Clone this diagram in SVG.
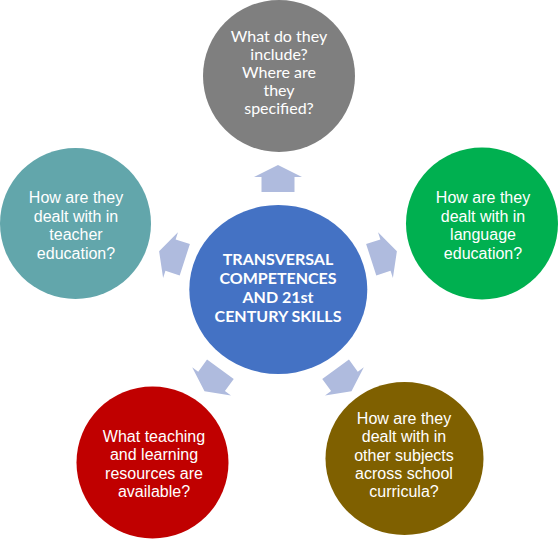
<svg xmlns="http://www.w3.org/2000/svg" width="559" height="540" viewBox="0 0 559 540">
<defs>
<style>
.arrow{fill:#AFBBDE}
.t{font-family:"Liberation Sans",Arial,sans-serif;font-size:16px;fill:#fff;text-anchor:middle}
.c{font-family:Lato,"Open Sans",sans-serif;font-size:16px;fill:#fff;text-anchor:middle}
.cb{font-family:Lato,"Open Sans",sans-serif;font-size:16px;font-weight:bold;fill:#fff;text-anchor:middle}
</style>
<polygon id="arr" points="278,165 302,177 294.5,177 294.5,192 261.5,192 261.5,177 254,177"/>
</defs>
<rect width="559" height="540" fill="#fff"/>
<g id="connectors" class="arrow">
<use href="#arr"/>
<use href="#arr" transform="rotate(72 278 290)"/>
<use href="#arr" transform="rotate(144 278 290)"/>
<use href="#arr" transform="rotate(216 278 290)"/>
<use href="#arr" transform="rotate(288 278 290)"/>
</g>
<g id="center">
<ellipse cx="278.3" cy="289.5" rx="89" ry="84.5" fill="#4472C4"/>
<text class="cb" x="278" y="265">TRANSVERSAL</text>
<text class="cb" x="278" y="284">COMPETENCES</text>
<text class="cb" x="278" y="303">AND 21st</text>
<text class="cb" x="278" y="322">CENTURY SKILLS</text>
</g>
<g id="top">
<circle cx="279" cy="76" r="76" fill="#7F7F7F"/>
<text class="c" x="279" y="42">What do they</text>
<text class="c" x="279" y="60">include?</text>
<text class="c" x="279" y="78">Where are</text>
<text class="c" x="279" y="96">they</text>
<text class="c" x="279" y="114">specified?</text>
</g>
<g id="right">
<circle cx="482" cy="223.5" r="76" fill="#00B050"/>
<text class="t" x="483" y="203">How are they</text>
<text class="t" x="483" y="222">dealt with in</text>
<text class="t" x="483" y="240">language</text>
<text class="t" x="483" y="259">education?</text>
</g>
<g id="left">
<circle cx="75.5" cy="223.5" r="75.5" fill="#62A6AB"/>
<text class="t" x="76" y="203">How are they</text>
<text class="t" x="76" y="222">dealt with in</text>
<text class="t" x="76" y="240">teacher</text>
<text class="t" x="76" y="259">education?</text>
</g>
<g id="bottom-left">
<circle cx="152.5" cy="462.5" r="76" fill="#C00000"/>
<text class="t" x="154" y="442">What teaching</text>
<text class="t" x="154" y="460">and learning</text>
<text class="t" x="154" y="479">resources are</text>
<text class="t" x="154" y="497">available?</text>
</g>
<g id="bottom-right">
<ellipse cx="404.5" cy="458.5" rx="79" ry="76.5" fill="#7F6000"/>
<text class="t" x="404" y="424">How are they</text>
<text class="t" x="404" y="442">dealt with in</text>
<text class="t" x="404" y="461">other subjects</text>
<text class="t" x="404" y="479">across school</text>
<text class="t" x="404" y="497">curricula?</text>
</g>
</svg>
